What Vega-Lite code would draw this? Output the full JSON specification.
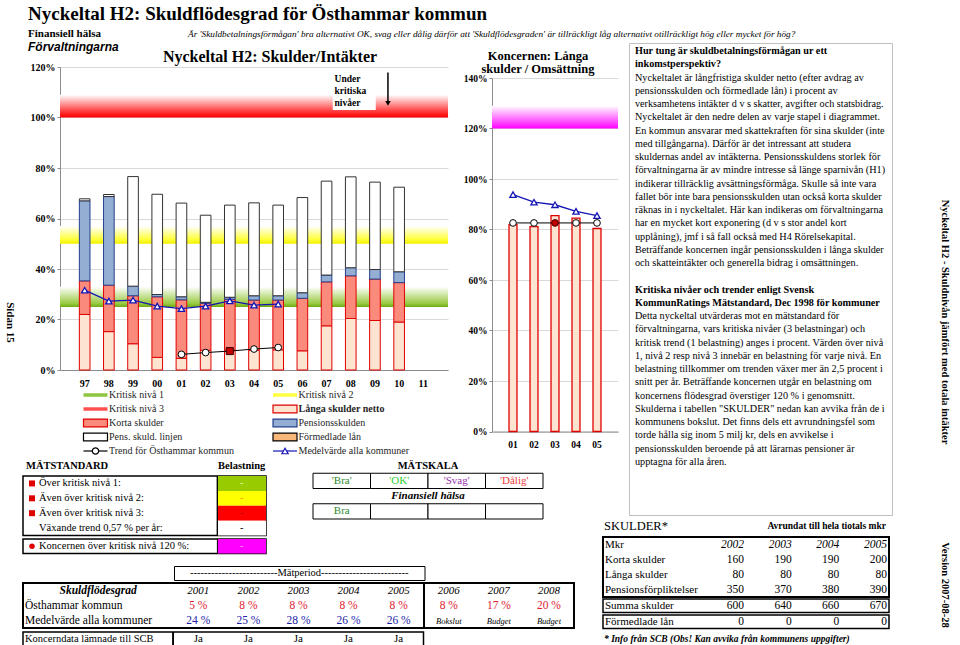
{
"$schema":"https://vega.github.io/schema/vega-lite/v6.json",
"padding":0,
"background":"white",
"spacing":0,
"align":"none",
"resolve":{"scale":{"fill":"independent","stroke":"independent","color":"independent","shape":"independent"}},
"config":{
 "font":"Liberation Serif",
 "view":{"stroke":null},
 "concat":{"spacing":0},
 "text":{"font":"Liberation Serif","color":"black"},
 "title":{"font":"Liberation Serif","color":"black"},
 "axis":{"labelFont":"Liberation Serif","labelFontWeight":"bold","labelFontSize":10,"labelColor":"black","domainColor":"#8c8c8c","tickColor":"#8c8c8c","gridColor":"#d9d9d9"}
},
"datasets":{
 "bars":[
  {"yr":"97","comp":"Långa skulder netto","ord":1,"v":0.220},{"yr":"97","comp":"Korta skulder","ord":2,"v":0.133},{"yr":"97","comp":"Pensionsskulden","ord":3,"v":0.317},{"yr":"97","comp":"Pens. skuld. linjen","ord":4,"v":0.008},
  {"yr":"98","comp":"Långa skulder netto","ord":1,"v":0.152},{"yr":"98","comp":"Korta skulder","ord":2,"v":0.184},{"yr":"98","comp":"Pensionsskulden","ord":3,"v":0.351},{"yr":"98","comp":"Pens. skuld. linjen","ord":4,"v":0.008},
  {"yr":"99","comp":"Långa skulder netto","ord":1,"v":0.104},{"yr":"99","comp":"Korta skulder","ord":2,"v":0.190},{"yr":"99","comp":"Pensionsskulden","ord":3,"v":0.038},{"yr":"99","comp":"Pens. skuld. linjen","ord":4,"v":0.434},
  {"yr":"00","comp":"Långa skulder netto","ord":1,"v":0.050},{"yr":"00","comp":"Korta skulder","ord":2,"v":0.240},{"yr":"00","comp":"Pensionsskulden","ord":3,"v":0.009},{"yr":"00","comp":"Pens. skuld. linjen","ord":4,"v":0.397},
  {"yr":"01","comp":"Långa skulder netto","ord":1,"v":0.046},{"yr":"01","comp":"Korta skulder","ord":2,"v":0.232},{"yr":"01","comp":"Pensionsskulden","ord":3,"v":0.012},{"yr":"01","comp":"Pens. skuld. linjen","ord":4,"v":0.371},
  {"yr":"02","comp":"Långa skulder netto","ord":1,"v":0.078},{"yr":"02","comp":"Korta skulder","ord":2,"v":0.186},{"yr":"02","comp":"Pensionsskulden","ord":3,"v":0.004},{"yr":"02","comp":"Pens. skuld. linjen","ord":4,"v":0.345},
  {"yr":"03","comp":"Långa skulder netto","ord":1,"v":0.078},{"yr":"03","comp":"Korta skulder","ord":2,"v":0.202},{"yr":"03","comp":"Pensionsskulden","ord":3,"v":0.008},{"yr":"03","comp":"Pens. skuld. linjen","ord":4,"v":0.365},
  {"yr":"04","comp":"Långa skulder netto","ord":1,"v":0.078},{"yr":"04","comp":"Korta skulder","ord":2,"v":0.199},{"yr":"04","comp":"Pensionsskulden","ord":3,"v":0.017},{"yr":"04","comp":"Pens. skuld. linjen","ord":4,"v":0.368},
  {"yr":"05","comp":"Långa skulder netto","ord":1,"v":0.080},{"yr":"05","comp":"Korta skulder","ord":2,"v":0.197},{"yr":"05","comp":"Pensionsskulden","ord":3,"v":0.017},{"yr":"05","comp":"Pens. skuld. linjen","ord":4,"v":0.359},
  {"yr":"06","comp":"Långa skulder netto","ord":1,"v":0.076},{"yr":"06","comp":"Korta skulder","ord":2,"v":0.208},{"yr":"06","comp":"Pensionsskulden","ord":3,"v":0.022},{"yr":"06","comp":"Pens. skuld. linjen","ord":4,"v":0.377},
  {"yr":"07","comp":"Långa skulder netto","ord":1,"v":0.175},{"yr":"07","comp":"Korta skulder","ord":2,"v":0.174},{"yr":"07","comp":"Pensionsskulden","ord":3,"v":0.027},{"yr":"07","comp":"Pens. skuld. linjen","ord":4,"v":0.372},
  {"yr":"08","comp":"Långa skulder netto","ord":1,"v":0.204},{"yr":"08","comp":"Korta skulder","ord":2,"v":0.169},{"yr":"08","comp":"Pensionsskulden","ord":3,"v":0.032},{"yr":"08","comp":"Pens. skuld. linjen","ord":4,"v":0.360},
  {"yr":"09","comp":"Långa skulder netto","ord":1,"v":0.196},{"yr":"09","comp":"Korta skulder","ord":2,"v":0.164},{"yr":"09","comp":"Pensionsskulden","ord":3,"v":0.038},{"yr":"09","comp":"Pens. skuld. linjen","ord":4,"v":0.346},
  {"yr":"10","comp":"Långa skulder netto","ord":1,"v":0.190},{"yr":"10","comp":"Korta skulder","ord":2,"v":0.156},{"yr":"10","comp":"Pensionsskulden","ord":3,"v":0.043},{"yr":"10","comp":"Pens. skuld. linjen","ord":4,"v":0.335}
 ],
 "trend":[{"yr":"01","v":0.062,"cur":false},{"yr":"02","v":0.069,"cur":false},{"yr":"03","v":0.075,"cur":true},{"yr":"04","v":0.083,"cur":false},{"yr":"05","v":0.089,"cur":false}],
 "medel":[{"yr":"97","v":0.316},{"yr":"98","v":0.273},{"yr":"99","v":0.277},{"yr":"00","v":0.253},{"yr":"01","v":0.243},{"yr":"02","v":0.253},{"yr":"03","v":0.274},{"yr":"04","v":0.257},{"yr":"05","v":0.261}],
 "crit":[{"lvl":"n1","lo":0.25,"hi":0.33},{"lvl":"n2","lo":0.5,"hi":0.57},{"lvl":"n3","lo":1.0,"hi":1.09}],
 "kbars":[{"yr":"01","v":0.819},{"yr":"02","v":0.811},{"yr":"03","v":0.855},{"yr":"04","v":0.845},{"yr":"05","v":0.804}],
 "ktrend":[{"yr":"01","v":0.826,"cur":false},{"yr":"02","v":0.826,"cur":false},{"yr":"03","v":0.826,"cur":true},{"yr":"04","v":0.826,"cur":false},{"yr":"05","v":0.826,"cur":false}],
 "kmedel":[{"yr":"01","v":0.938},{"yr":"02","v":0.908},{"yr":"03","v":0.898},{"yr":"04","v":0.872},{"yr":"05","v":0.855}],
 "kcrit":[{"lvl":"koncern","lo":1.2,"hi":1.29}],
 "legend":[
  {"key":"n1","label":"Kritisk nivå 1","row":1,"col":"a","kind":"line"},
  {"key":"n2","label":"Kritisk nivå 2","row":1,"col":"b","kind":"line"},
  {"key":"n3","label":"Kritisk nivå 3","row":2,"col":"a","kind":"line"},
  {"key":"lang","label":"Långa skulder netto","row":2,"col":"b","kind":"rect"},
  {"key":"korta","label":"Korta skulder","row":3,"col":"a","kind":"rect"},
  {"key":"pens","label":"Pensionsskulden","row":3,"col":"b","kind":"rect"},
  {"key":"linjen","label":"Pens. skuld. linjen","row":4,"col":"a","kind":"rect"},
  {"key":"form","label":"Förmedlade lån","row":4,"col":"b","kind":"rect"},
  {"key":"trend","label":"Trend för Östhammar kommun","row":5,"col":"a","kind":"marker"},
  {"key":"medel","label":"Medelvärde alla kommuner","row":5,"col":"b","kind":"marker"}
 ],
 "tb":[
  {"i":0,"kind":"head","t":"Hur tung är skuldbetalningsförmågan ur ett"},
  {"i":1,"kind":"head","t":"inkomstperspektiv?"},
  {"i":2,"kind":"body","t":"Nyckeltalet är långfristiga skulder netto (efter avdrag av"},
  {"i":3,"kind":"body","t":"pensionsskulden och förmedlade lån) i procent av"},
  {"i":4,"kind":"body","t":"verksamhetens intäkter d v s skatter, avgifter och statsbidrag."},
  {"i":5,"kind":"body","t":"Nyckeltalet är den nedre delen av varje stapel i diagrammet."},
  {"i":6,"kind":"body","t":"En kommun ansvarar med skattekraften för sina skulder (inte"},
  {"i":7,"kind":"body","t":"med tillgångarna). Därför är det intressant att studera"},
  {"i":8,"kind":"body","t":"skuldernas andel av intäkterna. Pensionsskuldens storlek för"},
  {"i":9,"kind":"body","t":"förvaltningarna är av mindre intresse så länge sparnivån (H1)"},
  {"i":10,"kind":"body","t":"indikerar tillräcklig avsättningsförmåga. Skulle så inte vara"},
  {"i":11,"kind":"body","t":"fallet bör inte bara pensionsskulden utan också korta skulder"},
  {"i":12,"kind":"body","t":"räknas in i nyckeltalet. Här kan indikeras om förvaltningarna"},
  {"i":13,"kind":"body","t":"har en mycket kort exponering (d v s stor andel kort"},
  {"i":14,"kind":"body","t":"upplåning), jmf i så fall också med H4 Rörelsekapital."},
  {"i":15,"kind":"body","t":"Beträffande koncernen ingår pensionsskulden i långa skulder"},
  {"i":16,"kind":"body","t":"och skatteintäkter och generella bidrag i omsättningen."},
  {"i":18,"kind":"head","t":"Kritiska nivåer och trender enligt Svensk"},
  {"i":19,"kind":"head","t":"KommunRatings Mätstandard, Dec 1998 för kommuner"},
  {"i":20,"kind":"body","t":"Detta nyckeltal utvärderas mot en mätstandard för"},
  {"i":21,"kind":"body","t":"förvaltningarna, vars kritiska nivåer (3 belastningar) och"},
  {"i":22,"kind":"body","t":"kritisk trend (1 belastning) anges i procent. Värden över nivå"},
  {"i":23,"kind":"body","t":"1, nivå 2 resp nivå 3 innebär en belastning för varje nivå. En"},
  {"i":24,"kind":"body","t":"belastning tillkommer om trenden växer mer än 2,5 procent i"},
  {"i":25,"kind":"body","t":"snitt per år. Beträffande koncernen utgår en belastning om"},
  {"i":26,"kind":"body","t":"koncernens flödesgrad överstiger 120 % i genomsnitt."},
  {"i":27,"kind":"body","t":"Skulderna i tabellen \"SKULDER\" nedan kan avvika från de i"},
  {"i":28,"kind":"body","t":"kommunens bokslut. Det finns dels ett avrundningsfel som"},
  {"i":29,"kind":"body","t":"torde hålla sig inom 5 milj kr, dels en avvikelse i"},
  {"i":30,"kind":"body","t":"pensionsskulden beroende på att lärarnas pensioner är"},
  {"i":31,"kind":"body","t":"upptagna för alla åren."}
 ],
 "matst":[
  {"r":1,"lab":"Över kritisk nivå 1:","lvl":"Nivå 1","bel":"-","grp":"A"},
  {"r":2,"lab":"Även över kritisk nivå 2:","lvl":"Nivå 2","bel":"-","grp":"A"},
  {"r":3,"lab":"Även över kritisk nivå 3:","lvl":"Nivå 3","bel":"-","grp":"A"},
  {"r":4,"lab":"Växande trend 0,57 % per år:","lvl":"Trend","bel":"-","grp":"A"},
  {"r":5,"lab":"Koncernen över kritisk nivå 120 %:","lvl":"Koncern","bel":"-","grp":"B"}
 ],
 "matsk":[
  {"row":"h1","kind":"head","t":"MÄTSKALA"},
  {"row":"h2","kind":"sub","t":"Finansiell hälsa"},
  {"row":"r1","col":"c1","kind":"cell","cls":"Bra","t":"'Bra'"},
  {"row":"r1","col":"c2","kind":"cell","cls":"OK","t":"'OK'"},
  {"row":"r1","col":"c3","kind":"cell","cls":"Svag","t":"'Svag'"},
  {"row":"r1","col":"c4","kind":"cell","cls":"Dålig","t":"'Dålig'"},
  {"row":"r2","col":"c1","kind":"cell","cls":"Bra","t":"Bra"},
  {"row":"r2","col":"c2","kind":"cell","cls":"","t":""},
  {"row":"r2","col":"c3","kind":"cell","cls":"","t":""},
  {"row":"r2","col":"c4","kind":"cell","cls":"","t":""}
 ],
 "sfg":[
  {"row":"h","col":"l2","kind":"head","t":"Skuldflödesgrad"},
  {"row":"h","col":"2001","kind":"year","t":"2001"},{"row":"h","col":"2002","kind":"year","t":"2002"},{"row":"h","col":"2003","kind":"year","t":"2003"},{"row":"h","col":"2004","kind":"year","t":"2004"},
  {"row":"h","col":"2005","kind":"year","t":"2005"},{"row":"h","col":"2006","kind":"year","t":"2006"},{"row":"h","col":"2007","kind":"year","t":"2007"},{"row":"h","col":"2008","kind":"year","t":"2008"},
  {"row":"o","col":"l1","kind":"label","t":"Östhammar kommun"},
  {"row":"o","col":"2001","kind":"ost","t":"5 %"},{"row":"o","col":"2002","kind":"ost","t":"8 %"},{"row":"o","col":"2003","kind":"ost","t":"8 %"},{"row":"o","col":"2004","kind":"ost","t":"8 %"},
  {"row":"o","col":"2005","kind":"ost","t":"8 %"},{"row":"o","col":"2006","kind":"ost","t":"8 %"},{"row":"o","col":"2007","kind":"ost","t":"17 %"},{"row":"o","col":"2008","kind":"ost","t":"20 %"},
  {"row":"m","col":"l1","kind":"label","t":"Medelvärde alla kommuner"},
  {"row":"m","col":"2001","kind":"medel","t":"24 %"},{"row":"m","col":"2002","kind":"medel","t":"25 %"},{"row":"m","col":"2003","kind":"medel","t":"28 %"},{"row":"m","col":"2004","kind":"medel","t":"26 %"},
  {"row":"m","col":"2005","kind":"medel","t":"26 %"},{"row":"m","col":"2006","kind":"note","t":"Bokslut"},{"row":"m","col":"2007","kind":"note","t":"Budget"},{"row":"m","col":"2008","kind":"note","t":"Budget"}
 ],
 "bot":[
  {"col":"l1","kind":"label","t":"Koncerndata lämnade till SCB"},
  {"col":"2001","kind":"ja","t":"Ja"},{"col":"2002","kind":"ja","t":"Ja"},{"col":"2003","kind":"ja","t":"Ja"},{"col":"2004","kind":"ja","t":"Ja"},{"col":"2005","kind":"ja","t":"Ja"}
 ],
 "skulder":[
  {"r":0,"grp":"f1","col":"l1","kind":"label","t":"Mkr"},
  {"r":0,"grp":"f1","col":"2002","kind":"year","t":"2002"},{"r":0,"grp":"f1","col":"2003","kind":"year","t":"2003"},{"r":0,"grp":"f1","col":"2004","kind":"year","t":"2004"},{"r":0,"grp":"f1","col":"2005","kind":"year","t":"2005"},
  {"r":1,"grp":"f1","col":"l1","kind":"label","t":"Korta skulder"},
  {"r":1,"grp":"f1","col":"2002","kind":"num","v":160},{"r":1,"grp":"f1","col":"2003","kind":"num","v":190},{"r":1,"grp":"f1","col":"2004","kind":"num","v":190},{"r":1,"grp":"f1","col":"2005","kind":"num","v":200},
  {"r":2,"grp":"f1","col":"l1","kind":"label","t":"Långa skulder"},
  {"r":2,"grp":"f1","col":"2002","kind":"num","v":80},{"r":2,"grp":"f1","col":"2003","kind":"num","v":80},{"r":2,"grp":"f1","col":"2004","kind":"num","v":80},{"r":2,"grp":"f1","col":"2005","kind":"num","v":80},
  {"r":3,"grp":"f1","col":"l1","kind":"label","t":"Pensionsförpliktelser"},
  {"r":3,"grp":"f1","col":"2002","kind":"num","v":350},{"r":3,"grp":"f1","col":"2003","kind":"num","v":370},{"r":3,"grp":"f1","col":"2004","kind":"num","v":380},{"r":3,"grp":"f1","col":"2005","kind":"num","v":390},
  {"r":4,"grp":"f2","col":"l1","kind":"label","t":"Summa skulder"},
  {"r":4,"grp":"f2","col":"2002","kind":"num","v":600},{"r":4,"grp":"f2","col":"2003","kind":"num","v":640},{"r":4,"grp":"f2","col":"2004","kind":"num","v":660},{"r":4,"grp":"f2","col":"2005","kind":"num","v":670},
  {"r":5,"grp":"f3","col":"l1","kind":"label","t":"Förmedlade lån"},
  {"r":5,"grp":"f3","col":"2002","kind":"num","v":0},{"r":5,"grp":"f3","col":"2003","kind":"num","v":0},{"r":5,"grp":"f3","col":"2004","kind":"num","v":0},{"r":5,"grp":"f3","col":"2005","kind":"num","v":0}
 ]
},
"hconcat":[
 {"width":20,"height":645,"data":{"values":[{"t":"Sidan 15"}]},"mark":{"type":"text","angle":90,"fontSize":11,"fontWeight":"bold"},"encoding":{"text":{"field":"t","type":"nominal"}}},
 {"spacing":0,"align":"none","resolve":{"scale":{"fill":"independent","stroke":"independent","color":"independent","shape":"independent"}},"vconcat":[
  {"width":910,"height":28,"data":{"values":[{"t":"Nyckeltal H2: Skuldflödesgrad för Östhammar kommun"}]},"mark":{"type":"text","align":"left","dx":8,"fontSize":19,"fontWeight":"bold"},"encoding":{"x":{"datum":0,"type":"quantitative","scale":{"domain":[0,1]},"axis":null},"text":{"field":"t","type":"nominal"}}},
  {"spacing":0,"align":"none","hconcat":[
   {"width":168,"height":12,"data":{"values":[{"t":"Finansiell hälsa"}]},"mark":{"type":"text","align":"left","dx":8,"fontSize":11,"fontWeight":"bold"},"encoding":{"x":{"datum":0,"type":"quantitative","scale":{"domain":[0,1]},"axis":null},"text":{"field":"t","type":"nominal"}}},
   {"width":742,"height":12,"data":{"values":[{"t":"Är 'Skuldbetalningsförmågan' bra alternativt OK, svag eller dålig därför att 'Skuldflödesgraden' är tillräckligt låg alternativt otillräckligt hög eller mycket för hög?"}]},"mark":{"type":"text","align":"left","fontSize":9.25,"fontStyle":"italic"},"encoding":{"x":{"datum":0,"type":"quantitative","scale":{"domain":[0,1]},"axis":null},"text":{"field":"t","type":"nominal"}}}
  ]},
  {"spacing":-16,"align":"none","resolve":{"scale":{"fill":"independent","stroke":"independent","color":"independent","shape":"independent"}},"hconcat":[
   {"spacing":0,"align":"none","resolve":{"scale":{"fill":"independent","stroke":"independent","color":"independent","shape":"independent"}},"vconcat":[
    {"spacing":0,"align":"none","resolve":{"scale":{"fill":"independent","stroke":"independent","color":"independent","shape":"independent"}},"hconcat":[
     {"width":1,"height":1,"data":{"values":[]},"mark":{"type":"point"},"encoding":{}},
     {"spacing":0,"align":"none","resolve":{"scale":{"fill":"independent","stroke":"independent","color":"independent","shape":"independent"}},"vconcat":[
      {"width":1,"height":1,"data":{"values":[]},"mark":{"type":"point"},"encoding":{}},
      {"width":388,"height":303,
       "layer":[
        {"data":{"name":"crit"},"transform":[{"filter":"datum.lvl=='n1'"}],"mark":{"type":"rect","fill":{"gradient":"linear","x1":0,"y1":1,"x2":0,"y2":0,"stops":[{"offset":0,"color":"#6FAE14"},{"offset":0.18,"color":"#9BCB45"},{"offset":1,"color":"#ffffff"}]}},
         "encoding":{"y":{"field":"lo","type":"quantitative","scale":{"domain":[0,1.2],"nice":false},"axis":{"values":[0,0.1,0.2,0.3,0.4,0.5,0.6,0.7,0.8,0.9,1,1.1,1.2],"format":".0%","grid":true,"tickSize":3,"labelPadding":2,"minExtent":39,"maxExtent":39},"title":null},"y2":{"field":"hi"}}},
        {"data":{"name":"crit"},"transform":[{"filter":"datum.lvl=='n2'"}],"mark":{"type":"rect","fill":{"gradient":"linear","x1":0,"y1":1,"x2":0,"y2":0,"stops":[{"offset":0,"color":"#F0F000"},{"offset":0.25,"color":"#FFFF3A"},{"offset":1,"color":"#ffffff"}]}},
         "encoding":{"y":{"field":"lo","type":"quantitative","scale":{"domain":[0,1.2],"nice":false},"title":null},"y2":{"field":"hi"}}},
        {"data":{"name":"crit"},"transform":[{"filter":"datum.lvl=='n3'"}],"mark":{"type":"rect","fill":{"gradient":"linear","x1":0,"y1":1,"x2":0,"y2":0,"stops":[{"offset":0,"color":"#FF0000"},{"offset":0.2,"color":"#FF2A2A"},{"offset":1,"color":"#ffffff"}]}},
         "encoding":{"y":{"field":"lo","type":"quantitative","scale":{"domain":[0,1.2],"nice":false},"title":null},"y2":{"field":"hi"}}},
        {"data":{"name":"bars"},"mark":{"type":"bar","strokeWidth":1},
         "encoding":{
          "x":{"field":"yr","type":"nominal","scale":{"type":"band","domain":["97","98","99","00","01","02","03","04","05","06","07","08","09","10","11"],"paddingInner":0.56,"paddingOuter":0.8},"axis":{"labelAngle":0,"ticks":false,"labelPadding":8},"title":null},
          "y":{"field":"v","type":"quantitative","stack":"zero","scale":{"domain":[0,1.2],"nice":false},"title":null},
          "fill":{"field":"comp","type":"nominal","scale":{"domain":["Långa skulder netto","Korta skulder","Pensionsskulden","Pens. skuld. linjen"],"range":["#FDE4D0","#FA8A7C","#94AED3","#FFFFFF"]},"legend":null},
          "stroke":{"field":"comp","type":"nominal","scale":{"domain":["Långa skulder netto","Korta skulder","Pensionsskulden","Pens. skuld. linjen"],"range":["#E00000","#E00000","#24408E","#333333"]},"legend":null},
          "order":{"field":"ord","type":"quantitative"}}},
        {"data":{"name":"medel"},"mark":{"type":"line","color":"#1515B5","strokeWidth":1.3},
         "encoding":{"x":{"field":"yr","type":"nominal","scale":{"type":"band","domain":["97","98","99","00","01","02","03","04","05","06","07","08","09","10","11"],"paddingInner":0.56,"paddingOuter":0.8},"title":null},"y":{"field":"v","type":"quantitative","scale":{"domain":[0,1.2],"nice":false},"title":null}}},
        {"data":{"name":"medel"},"mark":{"type":"point","shape":"triangle-up","filled":true,"fill":"white","stroke":"#1515B5","strokeWidth":1.3,"size":40,"opacity":1},
         "encoding":{"x":{"field":"yr","type":"nominal","scale":{"type":"band","domain":["97","98","99","00","01","02","03","04","05","06","07","08","09","10","11"],"paddingInner":0.56,"paddingOuter":0.8},"title":null},"y":{"field":"v","type":"quantitative","scale":{"domain":[0,1.2],"nice":false},"title":null}}},
        {"data":{"name":"trend"},"mark":{"type":"line","color":"black","strokeWidth":1},
         "encoding":{"x":{"field":"yr","type":"nominal","scale":{"type":"band","domain":["97","98","99","00","01","02","03","04","05","06","07","08","09","10","11"],"paddingInner":0.56,"paddingOuter":0.8},"title":null},"y":{"field":"v","type":"quantitative","scale":{"domain":[0,1.2],"nice":false},"title":null}}},
        {"data":{"name":"trend"},"transform":[{"filter":"!datum.cur"}],"mark":{"type":"point","shape":"circle","filled":true,"fill":"white","stroke":"black","strokeWidth":1,"size":45,"opacity":1},
         "encoding":{"x":{"field":"yr","type":"nominal","scale":{"type":"band","domain":["97","98","99","00","01","02","03","04","05","06","07","08","09","10","11"],"paddingInner":0.56,"paddingOuter":0.8},"title":null},"y":{"field":"v","type":"quantitative","scale":{"domain":[0,1.2],"nice":false},"title":null}}},
        {"data":{"name":"trend"},"transform":[{"filter":"datum.cur"}],"mark":{"type":"point","shape":"square","filled":true,"fill":"#C00000","stroke":"#400000","strokeWidth":1,"size":50,"opacity":1},
         "encoding":{"x":{"field":"yr","type":"nominal","scale":{"type":"band","domain":["97","98","99","00","01","02","03","04","05","06","07","08","09","10","11"],"paddingInner":0.56,"paddingOuter":0.8},"title":null},"y":{"field":"v","type":"quantitative","scale":{"domain":[0,1.2],"nice":false},"title":null}}},
        {"data":{"values":[{}]},"mark":{"type":"rect","fill":"white","width":43,"xOffset":3.5},
         "encoding":{"x":{"datum":"08","type":"nominal","scale":{"type":"band","domain":["97","98","99","00","01","02","03","04","05","06","07","08","09","10","11"],"paddingInner":0.56,"paddingOuter":0.8}},"y":{"datum":1.175,"type":"quantitative","scale":{"domain":[0,1.2],"nice":false}},"y2":{"datum":1.03}}},
        {"data":{"values":[{"t":"Under\nkritiska\nnivåer"}]},"mark":{"type":"text","align":"left","baseline":"top","dx":8,"fontSize":9.5,"fontWeight":"bold","lineHeight":12,"lineBreak":"\n"},
         "encoding":{"x":{"datum":"07","type":"nominal","scale":{"type":"band","domain":["97","98","99","00","01","02","03","04","05","06","07","08","09","10","11"],"paddingInner":0.56,"paddingOuter":0.8}},"y":{"datum":1.173,"type":"quantitative","scale":{"domain":[0,1.2],"nice":false}},"text":{"field":"t","type":"nominal"}}},
        {"data":{"values":[{}]},"mark":{"type":"rule","color":"black","strokeWidth":1.5,"xOffset":13},
         "encoding":{"x":{"datum":"09","type":"nominal","scale":{"type":"band","domain":["97","98","99","00","01","02","03","04","05","06","07","08","09","10","11"],"paddingInner":0.56,"paddingOuter":0.8}},"y":{"datum":1.178,"type":"quantitative","scale":{"domain":[0,1.2],"nice":false}},"y2":{"datum":1.06}}},
        {"data":{"values":[{}]},"mark":{"type":"point","shape":"triangle-down","filled":true,"color":"black","size":30,"opacity":1,"xOffset":13},
         "encoding":{"x":{"datum":"09","type":"nominal","scale":{"type":"band","domain":["97","98","99","00","01","02","03","04","05","06","07","08","09","10","11"],"paddingInner":0.56,"paddingOuter":0.8}},"y":{"datum":1.056,"type":"quantitative","scale":{"domain":[0,1.2],"nice":false}}}},
        {"data":{"values":[{"t":"Förvaltningarna"}]},"mark":{"type":"text","align":"left","dx":-56.7,"font":"Liberation Sans","fontSize":12,"fontStyle":"italic","fontWeight":"bold"},
         "encoding":{"x":{"datum":"97","type":"nominal","scale":{"type":"band","domain":["97","98","99","00","01","02","03","04","05","06","07","08","09","10","11"],"paddingInner":0.56,"paddingOuter":0.8}},"y":{"datum":1.279,"type":"quantitative","scale":{"domain":[0,1.2],"nice":false}},"text":{"field":"t","type":"nominal"}}},
        {"data":{"values":[{"t":"Nyckeltal H2: Skulder/Intäkter"}]},"mark":{"type":"text","dx":16,"fontSize":16,"fontWeight":"bold"},
         "encoding":{"x":{"datum":"04","type":"nominal","scale":{"type":"band","domain":["97","98","99","00","01","02","03","04","05","06","07","08","09","10","11"],"paddingInner":0.56,"paddingOuter":0.8}},"y":{"datum":1.24,"type":"quantitative","scale":{"domain":[0,1.2],"nice":false}},"text":{"field":"t","type":"nominal"}}}
       ]},
      {"width":260.5,"height":70,"data":{"name":"legend"},
       "layer":[
        {"transform":[{"filter":"datum.kind=='line'"}],"mark":{"type":"point","shape":"M-1,0H1","size":576,"strokeWidth":3.5,"opacity":1,"filled":false},
         "encoding":{"x":{"field":"col","type":"nominal","scale":{"type":"point","domain":["a","b"],"padding":0.1873},"axis":null},"y":{"field":"row","type":"ordinal","scale":{"type":"point","padding":0.5},"axis":null},
          "stroke":{"field":"key","type":"nominal","scale":{"domain":["n1","n2","n3","lang","korta","pens","linjen","form","trend","medel"],"range":["#8DC63F","#FFFF40","#FF5050","#E00000","#E00000","#24408E","#000000","#000000","#000000","#1515B5"]},"legend":null}}},
        {"transform":[{"filter":"datum.kind=='marker'"}],"mark":{"type":"point","shape":"M-1,0H1","size":576,"strokeWidth":1.2,"opacity":1,"filled":false},
         "encoding":{"x":{"field":"col","type":"nominal","scale":{"type":"point","domain":["a","b"],"padding":0.1873},"axis":null},"y":{"field":"row","type":"ordinal","scale":{"type":"point","padding":0.5},"axis":null},
          "stroke":{"field":"key","type":"nominal","scale":{"domain":["n1","n2","n3","lang","korta","pens","linjen","form","trend","medel"],"range":["#8DC63F","#FFFF40","#FF5050","#E00000","#E00000","#24408E","#000000","#000000","#000000","#1515B5"]},"legend":null}}},
        {"transform":[{"filter":"datum.kind=='rect'"}],"mark":{"type":"point","shape":"M-1,-0.33H1V0.33H-1Z","size":576,"strokeWidth":1.2,"opacity":1,"filled":true},
         "encoding":{"x":{"field":"col","type":"nominal","scale":{"type":"point","domain":["a","b"],"padding":0.1873},"axis":null},"y":{"field":"row","type":"ordinal","scale":{"type":"point","padding":0.5},"axis":null},
          "stroke":{"field":"key","type":"nominal","scale":{"domain":["n1","n2","n3","lang","korta","pens","linjen","form","trend","medel"],"range":["#8DC63F","#FFFF40","#FF5050","#E00000","#E00000","#24408E","#000000","#000000","#000000","#1515B5"]},"legend":null},
          "fill":{"field":"key","type":"nominal","scale":{"domain":["lang","korta","pens","linjen","form"],"range":["#FDE4D0","#FA8A7C","#94AED3","#FFFFFF","#F9B77A"]},"legend":null}}},
        {"transform":[{"filter":"datum.kind=='marker'"}],"mark":{"type":"point","size":40,"strokeWidth":1.2,"opacity":1,"filled":true,"fill":"white"},
         "encoding":{"x":{"field":"col","type":"nominal","scale":{"type":"point","domain":["a","b"],"padding":0.1873},"axis":null},"y":{"field":"row","type":"ordinal","scale":{"type":"point","padding":0.5},"axis":null},
          "stroke":{"field":"key","type":"nominal","scale":{"domain":["n1","n2","n3","lang","korta","pens","linjen","form","trend","medel"],"range":["#8DC63F","#FFFF40","#FF5050","#E00000","#E00000","#24408E","#000000","#000000","#000000","#1515B5"]},"legend":null},
          "shape":{"field":"key","type":"nominal","scale":{"domain":["trend","medel"],"range":["circle","triangle-up"]},"legend":null}}},
        {"transform":[{"filter":"datum.key!='lang'"}],"mark":{"type":"text","align":"left","dx":13.5,"fontSize":10,"color":"#262626"},
         "encoding":{"x":{"field":"col","type":"nominal","scale":{"type":"point","domain":["a","b"],"padding":0.1873},"axis":null},"y":{"field":"row","type":"ordinal","scale":{"type":"point","padding":0.5},"axis":null},"text":{"field":"label","type":"nominal"}}},
        {"transform":[{"filter":"datum.key=='lang'"}],"mark":{"type":"text","align":"left","dx":13.5,"fontSize":10,"fontWeight":"bold","color":"#262626"},
         "encoding":{"x":{"field":"col","type":"nominal","scale":{"type":"point","domain":["a","b"],"padding":0.1873},"axis":null},"y":{"field":"row","type":"ordinal","scale":{"type":"point","padding":0.5},"axis":null},"text":{"field":"label","type":"nominal"}}}
       ]}
     ]},
     {"spacing":0,"align":"none","resolve":{"scale":{"fill":"independent","stroke":"independent","color":"independent","shape":"independent"}},"vconcat":[
      {"width":1,"height":9,"data":{"values":[]},"mark":{"type":"point"},"encoding":{}},
      {"width":126,"height":353.5,
       "title":{"text":["Koncernen: Långa","skulder / Omsättning"],"fontSize":12.5,"fontWeight":"bold","lineHeight":13,"frame":"group","anchor":"middle","dx":-17,"offset":-2},
       "layer":[
        {"data":{"name":"kcrit"},"mark":{"type":"rect","fill":{"gradient":"linear","x1":0,"y1":1,"x2":0,"y2":0,"stops":[{"offset":0,"color":"#FF00FF"},{"offset":0.25,"color":"#FF40FF"},{"offset":1,"color":"#ffffff"}]}},
         "encoding":{"y":{"field":"lo","type":"quantitative","scale":{"domain":[0,1.4],"nice":false},"axis":{"values":[0,0.1,0.2,0.3,0.4,0.5,0.6,0.7,0.8,0.9,1,1.1,1.2,1.3,1.4],"format":".0%","grid":true,"tickSize":3,"labelPadding":2,"labelFontSize":9.5,"minExtent":44,"maxExtent":44},"title":null},"y2":{"field":"hi"}}},
        {"data":{"name":"kbars"},"mark":{"type":"bar","fill":"#FDE4D0","stroke":"#E00000","strokeWidth":1.3},
         "encoding":{"x":{"field":"yr","type":"nominal","scale":{"type":"band","domain":["01","02","03","04","05"],"paddingInner":0.62,"paddingOuter":0.81},"axis":{"labelAngle":0,"ticks":false,"labelPadding":8,"labelFontSize":9.5},"title":null},"y":{"field":"v","type":"quantitative","scale":{"domain":[0,1.4],"nice":false},"title":null}}},
        {"data":{"name":"kmedel"},"mark":{"type":"line","color":"#1515B5","strokeWidth":1.3},
         "encoding":{"x":{"field":"yr","type":"nominal","scale":{"type":"band","domain":["01","02","03","04","05"],"paddingInner":0.62,"paddingOuter":0.81},"title":null},"y":{"field":"v","type":"quantitative","scale":{"domain":[0,1.4],"nice":false},"title":null}}},
        {"data":{"name":"kmedel"},"mark":{"type":"point","shape":"triangle-up","filled":true,"fill":"white","stroke":"#1515B5","strokeWidth":1.3,"size":40,"opacity":1},
         "encoding":{"x":{"field":"yr","type":"nominal","scale":{"type":"band","domain":["01","02","03","04","05"],"paddingInner":0.62,"paddingOuter":0.81},"title":null},"y":{"field":"v","type":"quantitative","scale":{"domain":[0,1.4],"nice":false},"title":null}}},
        {"data":{"name":"ktrend"},"mark":{"type":"line","color":"black","strokeWidth":1},
         "encoding":{"x":{"field":"yr","type":"nominal","scale":{"type":"band","domain":["01","02","03","04","05"],"paddingInner":0.62,"paddingOuter":0.81},"title":null},"y":{"field":"v","type":"quantitative","scale":{"domain":[0,1.4],"nice":false},"title":null}}},
        {"data":{"name":"ktrend"},"transform":[{"filter":"!datum.cur"}],"mark":{"type":"point","shape":"circle","filled":true,"fill":"white","stroke":"black","strokeWidth":1,"size":45,"opacity":1},
         "encoding":{"x":{"field":"yr","type":"nominal","scale":{"type":"band","domain":["01","02","03","04","05"],"paddingInner":0.62,"paddingOuter":0.81},"title":null},"y":{"field":"v","type":"quantitative","scale":{"domain":[0,1.4],"nice":false},"title":null}}},
        {"data":{"name":"ktrend"},"transform":[{"filter":"datum.cur"}],"mark":{"type":"point","shape":"circle","filled":true,"fill":"#C00000","stroke":"#400000","strokeWidth":1,"size":45,"opacity":1},
         "encoding":{"x":{"field":"yr","type":"nominal","scale":{"type":"band","domain":["01","02","03","04","05"],"paddingInner":0.62,"paddingOuter":0.81},"title":null},"y":{"field":"v","type":"quantitative","scale":{"domain":[0,1.4],"nice":false},"title":null}}}
       ]}
     ]}
    ]},
    {"spacing":0,"align":"none","resolve":{"scale":{"fill":"independent","stroke":"independent","color":"independent","shape":"independent"}},"hconcat":[
     {"width":2,"height":1,"data":{"values":[]},"mark":{"type":"point"},"encoding":{}},
     {"spacing":0,"align":"none","resolve":{"scale":{"fill":"independent","stroke":"independent","color":"independent","shape":"independent"}},"vconcat":[
      {"width":243,"height":16,"data":{"values":[{"col":"l1","t":"MÄTSTANDARD"},{"col":"bel","t":"Belastning"}]},
       "layer":[
        {"transform":[{"filter":"datum.col=='l1'"}],"mark":{"type":"text","align":"left","dx":3,"fontSize":10.5,"fontWeight":"bold"},"encoding":{"x":{"field":"col","type":"nominal","scale":{"type":"band","domain":["l1","l2","l3","l4","bel"],"paddingInner":0,"paddingOuter":0},"bandPosition":0,"axis":null},"text":{"field":"t","type":"nominal"}}},
        {"transform":[{"filter":"datum.col=='bel'"}],"mark":{"type":"text","fontSize":10.5,"fontWeight":"bold"},"encoding":{"x":{"field":"col","type":"nominal","scale":{"type":"band","domain":["l1","l2","l3","l4","bel"],"paddingInner":0,"paddingOuter":0},"axis":null},"text":{"field":"t","type":"nominal"}}}
       ]},
      {"width":243,"height":59.5,"view":{"stroke":"black","strokeWidth":1.5},"data":{"name":"matst"},"transform":[{"filter":"datum.grp=='A'"}],
       "layer":[
        {"mark":{"type":"rect"},"encoding":{"x":{"datum":"bel","type":"nominal","scale":{"type":"band","domain":["l1","l2","l3","l4","bel"],"paddingInner":0,"paddingOuter":0},"axis":null},"y":{"field":"r","type":"ordinal","scale":{"type":"band","paddingInner":0,"paddingOuter":0},"axis":null},
          "fill":{"field":"lvl","type":"nominal","scale":{"domain":["Nivå 1","Nivå 2","Nivå 3","Trend","Koncern"],"range":["#99CC00","#FFFF00","#FF0000","#FFFFFF","#FF00FF"]},"legend":null}}},
        {"mark":{"type":"rule","color":"black","strokeWidth":1},"encoding":{"x":{"datum":"bel","type":"nominal","scale":{"type":"band","domain":["l1","l2","l3","l4","bel"],"paddingInner":0,"paddingOuter":0},"bandPosition":0,"axis":null}}},
        {"transform":[{"filter":"datum.lvl!='Trend'"}],"mark":{"type":"point","shape":"square","filled":true,"color":"#E00000","size":36,"opacity":1,"xOffset":9},
         "encoding":{"x":{"datum":"l1","type":"nominal","scale":{"type":"band","domain":["l1","l2","l3","l4","bel"],"paddingInner":0,"paddingOuter":0},"bandPosition":0,"axis":null},"y":{"field":"r","type":"ordinal","scale":{"type":"band","paddingInner":0,"paddingOuter":0},"axis":null}}},
        {"mark":{"type":"text","align":"left","dx":16,"fontSize":10.5},
         "encoding":{"x":{"datum":"l1","type":"nominal","scale":{"type":"band","domain":["l1","l2","l3","l4","bel"],"paddingInner":0,"paddingOuter":0},"bandPosition":0,"axis":null},"y":{"field":"r","type":"ordinal","scale":{"type":"band","paddingInner":0,"paddingOuter":0},"axis":null},"text":{"field":"lab","type":"nominal"}}},
        {"mark":{"type":"text","fontSize":10.5},
         "encoding":{"x":{"datum":"bel","type":"nominal","scale":{"type":"band","domain":["l1","l2","l3","l4","bel"],"paddingInner":0,"paddingOuter":0},"axis":null},"y":{"field":"r","type":"ordinal","scale":{"type":"band","paddingInner":0,"paddingOuter":0},"axis":null},"text":{"field":"bel","type":"nominal"},
          "color":{"field":"lvl","type":"nominal","scale":{"domain":["Nivå 1","Nivå 2","Nivå 3","Trend","Koncern"],"range":["#E6F5B0","#FF9900","#B00000","#000000","#FFA0FF"]},"legend":null}}}
       ]},
      {"width":243,"height":14.5,"view":{"stroke":"black","strokeWidth":1.5},"data":{"name":"matst"},"transform":[{"filter":"datum.grp=='B'"}],
       "layer":[
        {"mark":{"type":"rect"},"encoding":{"x":{"datum":"bel","type":"nominal","scale":{"type":"band","domain":["l1","l2","l3","l4","bel"],"paddingInner":0,"paddingOuter":0},"axis":null},
          "fill":{"field":"lvl","type":"nominal","scale":{"domain":["Nivå 1","Nivå 2","Nivå 3","Trend","Koncern"],"range":["#99CC00","#FFFF00","#FF0000","#FFFFFF","#FF00FF"]},"legend":null}}},
        {"mark":{"type":"rule","color":"black","strokeWidth":1},"encoding":{"x":{"datum":"bel","type":"nominal","scale":{"type":"band","domain":["l1","l2","l3","l4","bel"],"paddingInner":0,"paddingOuter":0},"bandPosition":0,"axis":null}}},
        {"mark":{"type":"point","shape":"circle","filled":true,"color":"#E00000","size":30,"opacity":1,"xOffset":9},
         "encoding":{"x":{"datum":"l1","type":"nominal","scale":{"type":"band","domain":["l1","l2","l3","l4","bel"],"paddingInner":0,"paddingOuter":0},"bandPosition":0,"axis":null}}},
        {"mark":{"type":"text","align":"left","dx":16,"fontSize":10.5},
         "encoding":{"x":{"datum":"l1","type":"nominal","scale":{"type":"band","domain":["l1","l2","l3","l4","bel"],"paddingInner":0,"paddingOuter":0},"bandPosition":0,"axis":null},"text":{"field":"lab","type":"nominal"}}},
        {"mark":{"type":"text","fontSize":10.5,"color":"#FFA0FF"},
         "encoding":{"x":{"datum":"bel","type":"nominal","scale":{"type":"band","domain":["l1","l2","l3","l4","bel"],"paddingInner":0,"paddingOuter":0},"axis":null},"text":{"field":"bel","type":"nominal"}}}
       ]}
     ]},
     {"width":45,"height":1,"data":{"values":[]},"mark":{"type":"point"},"encoding":{}},
     {"width":230,"height":61,"data":{"name":"matsk"},
      "layer":[
       {"transform":[{"filter":"datum.kind=='cell'"}],"mark":{"type":"rect","fill":"white","stroke":"black","strokeWidth":1},
        "encoding":{"x":{"field":"col","type":"nominal","scale":{"type":"band","domain":["c1","c2","c3","c4"],"paddingInner":0,"paddingOuter":0},"axis":null},"y":{"field":"row","type":"nominal","scale":{"type":"band","domain":["h1","r1","h2","r2"],"paddingInner":0,"paddingOuter":0},"axis":null}}},
       {"transform":[{"filter":"datum.kind=='cell' && datum.t!=''"}],"mark":{"type":"text","fontSize":11},
        "encoding":{"x":{"field":"col","type":"nominal","scale":{"type":"band","domain":["c1","c2","c3","c4"],"paddingInner":0,"paddingOuter":0},"axis":null},"y":{"field":"row","type":"nominal","scale":{"type":"band","domain":["h1","r1","h2","r2"],"paddingInner":0,"paddingOuter":0},"axis":null},"text":{"field":"t","type":"nominal"},
         "color":{"field":"cls","type":"nominal","scale":{"domain":["Bra","OK","Svag","Dålig"],"range":["#2E8B2E","#33CC33","#9933AA","#F03A3A"]},"legend":null}}},
       {"transform":[{"filter":"datum.kind=='head'"}],"mark":{"type":"text","fontSize":10.5,"fontWeight":"bold"},
        "encoding":{"y":{"field":"row","type":"nominal","scale":{"type":"band","domain":["h1","r1","h2","r2"],"paddingInner":0,"paddingOuter":0},"axis":null},"text":{"field":"t","type":"nominal"}}},
       {"transform":[{"filter":"datum.kind=='sub'"}],"mark":{"type":"text","fontSize":11,"fontWeight":"bold","fontStyle":"italic"},
        "encoding":{"y":{"field":"row","type":"nominal","scale":{"type":"band","domain":["h1","r1","h2","r2"],"paddingInner":0,"paddingOuter":0},"axis":null},"text":{"field":"t","type":"nominal"}}}
      ]}
    ]},
    {"spacing":0,"align":"none","resolve":{"scale":{"fill":"independent","stroke":"independent","color":"independent","shape":"independent"}},"hconcat":[
     {"width":2,"height":1,"data":{"values":[]},"mark":{"type":"point"},"encoding":{}},
     {"spacing":0,"align":"none","resolve":{"scale":{"fill":"independent","stroke":"independent","color":"independent","shape":"independent"}},"vconcat":[
      {"width":1,"height":10,"data":{"values":[]},"mark":{"type":"point"},"encoding":{}},
      {"spacing":0,"align":"none","hconcat":[
       {"width":150,"height":14,"data":{"values":[]},"mark":{"type":"point"},"encoding":{}},
       {"width":250.5,"height":14,"view":{"stroke":"black","strokeWidth":1},"data":{"values":[{"t":"-------------------------Mätperiod-------------------------"}]},"mark":{"type":"text","fontSize":10.5},"encoding":{"text":{"field":"t","type":"nominal"}}}
      ]},
      {"width":551,"height":45,"view":{"stroke":"black","strokeWidth":2},"data":{"name":"sfg"},
       "layer":[
        {"mark":{"type":"rule","color":"black","strokeWidth":1},"encoding":{"x":{"datum":"2006","type":"nominal","scale":{"type":"band","domain":["l1","l2","l3","2001","2002","2003","2004","2005","2006","2007","2008"],"paddingInner":0,"paddingOuter":0},"bandPosition":0,"axis":null}}},
        {"transform":[{"filter":"datum.kind=='head'"}],"mark":{"type":"text","fontSize":11.5,"fontWeight":"bold","fontStyle":"italic"},
         "encoding":{"x":{"field":"col","type":"nominal","scale":{"type":"band","domain":["l1","l2","l3","2001","2002","2003","2004","2005","2006","2007","2008"],"paddingInner":0,"paddingOuter":0},"axis":null},"y":{"field":"row","type":"nominal","scale":{"type":"band","domain":["h","o","m"],"paddingInner":0,"paddingOuter":0},"axis":null},"text":{"field":"t","type":"nominal"}}},
        {"transform":[{"filter":"datum.kind=='year'"}],"mark":{"type":"text","fontSize":11,"fontStyle":"italic"},
         "encoding":{"x":{"field":"col","type":"nominal","scale":{"type":"band","domain":["l1","l2","l3","2001","2002","2003","2004","2005","2006","2007","2008"],"paddingInner":0,"paddingOuter":0},"axis":null},"y":{"field":"row","type":"nominal","scale":{"type":"band","domain":["h","o","m"],"paddingInner":0,"paddingOuter":0},"axis":null},"text":{"field":"t","type":"nominal"}}},
        {"transform":[{"filter":"datum.kind=='label'"}],"mark":{"type":"text","align":"left","dx":2,"fontSize":11.5},
         "encoding":{"x":{"field":"col","type":"nominal","scale":{"type":"band","domain":["l1","l2","l3","2001","2002","2003","2004","2005","2006","2007","2008"],"paddingInner":0,"paddingOuter":0},"bandPosition":0,"axis":null},"y":{"field":"row","type":"nominal","scale":{"type":"band","domain":["h","o","m"],"paddingInner":0,"paddingOuter":0},"axis":null},"text":{"field":"t","type":"nominal"}}},
        {"transform":[{"filter":"datum.kind=='ost'"}],"mark":{"type":"text","fontSize":11.5,"color":"#E0202F"},
         "encoding":{"x":{"field":"col","type":"nominal","scale":{"type":"band","domain":["l1","l2","l3","2001","2002","2003","2004","2005","2006","2007","2008"],"paddingInner":0,"paddingOuter":0},"axis":null},"y":{"field":"row","type":"nominal","scale":{"type":"band","domain":["h","o","m"],"paddingInner":0,"paddingOuter":0},"axis":null},"text":{"field":"t","type":"nominal"}}},
        {"transform":[{"filter":"datum.kind=='medel'"}],"mark":{"type":"text","fontSize":11.5,"color":"#2020A8"},
         "encoding":{"x":{"field":"col","type":"nominal","scale":{"type":"band","domain":["l1","l2","l3","2001","2002","2003","2004","2005","2006","2007","2008"],"paddingInner":0,"paddingOuter":0},"axis":null},"y":{"field":"row","type":"nominal","scale":{"type":"band","domain":["h","o","m"],"paddingInner":0,"paddingOuter":0},"axis":null},"text":{"field":"t","type":"nominal"}}},
        {"transform":[{"filter":"datum.kind=='note'"}],"mark":{"type":"text","fontSize":8.5,"fontStyle":"italic"},
         "encoding":{"x":{"field":"col","type":"nominal","scale":{"type":"band","domain":["l1","l2","l3","2001","2002","2003","2004","2005","2006","2007","2008"],"paddingInner":0,"paddingOuter":0},"axis":null},"y":{"field":"row","type":"nominal","scale":{"type":"band","domain":["h","o","m"],"paddingInner":0,"paddingOuter":0},"axis":null},"text":{"field":"t","type":"nominal"}}}
       ]},
      {"width":400.5,"height":14.5,"view":{"stroke":"black","strokeWidth":1.5},"data":{"name":"bot"},
       "layer":[
        {"mark":{"type":"rule","color":"black","strokeWidth":1},"encoding":{"x":{"datum":"2001","type":"nominal","scale":{"type":"band","domain":["l1","l2","l3","2001","2002","2003","2004","2005"],"paddingInner":0,"paddingOuter":0},"bandPosition":0,"axis":null}}},
        {"transform":[{"filter":"datum.kind=='label'"}],"mark":{"type":"text","align":"left","dx":2,"fontSize":10.5},
         "encoding":{"x":{"field":"col","type":"nominal","scale":{"type":"band","domain":["l1","l2","l3","2001","2002","2003","2004","2005"],"paddingInner":0,"paddingOuter":0},"bandPosition":0,"axis":null},"text":{"field":"t","type":"nominal"}}},
        {"transform":[{"filter":"datum.kind=='ja'"}],"mark":{"type":"text","fontSize":11},
         "encoding":{"x":{"field":"col","type":"nominal","scale":{"type":"band","domain":["l1","l2","l3","2001","2002","2003","2004","2005"],"paddingInner":0,"paddingOuter":0},"axis":null},"text":{"field":"t","type":"nominal"}}}
       ]}
     ]}
    ]}
   ]},
   {"spacing":0,"align":"none","resolve":{"scale":{"fill":"independent","stroke":"independent","color":"independent","shape":"independent"}},"vconcat":[
    {"width":1,"height":2,"data":{"values":[]},"mark":{"type":"point"},"encoding":{}},
    {"spacing":0,"align":"none","hconcat":[
     {"width":25,"height":1,"data":{"values":[]},"mark":{"type":"point"},"encoding":{}},
     {"width":263,"height":472,"view":{"stroke":"#bfbfbf","strokeWidth":1},"data":{"name":"tb"},
      "layer":[
       {"transform":[{"filter":"datum.kind=='body'"}],"mark":{"type":"text","align":"left","dx":6,"fontSize":10.2},
        "encoding":{"x":{"datum":0,"type":"quantitative","scale":{"domain":[0,1]},"axis":null},"y":{"field":"i","type":"quantitative","scale":{"domain":[-0.603,35.0],"reverse":true,"nice":false,"zero":false},"axis":null},"text":{"field":"t","type":"nominal"}}},
       {"transform":[{"filter":"datum.kind=='head'"}],"mark":{"type":"text","align":"left","dx":6,"fontSize":10.2,"fontWeight":"bold"},
        "encoding":{"x":{"datum":0,"type":"quantitative","scale":{"domain":[0,1]},"axis":null},"y":{"field":"i","type":"quantitative","scale":{"domain":[-0.603,35.0],"reverse":true,"nice":false,"zero":false},"axis":null},"text":{"field":"t","type":"nominal"}}}
      ]}
    ]},
    {"spacing":0,"align":"none","vconcat":[
     {"width":286,"height":20,
      "layer":[
       {"data":{"values":[{"t":"SKULDER*"}]},"mark":{"type":"text","align":"left","dx":1,"fontSize":12.5},"encoding":{"x":{"datum":0,"type":"quantitative","scale":{"domain":[0,1]},"axis":null},"text":{"field":"t","type":"nominal"}}},
       {"data":{"values":[{"t":"Avrundat till hela tiotals mkr"}]},"mark":{"type":"text","align":"right","dx":-3,"fontSize":9.5,"fontWeight":"bold"},"encoding":{"x":{"datum":1,"type":"quantitative","scale":{"domain":[0,1]},"axis":null},"text":{"field":"t","type":"nominal"}}}
      ]},
     {"width":286,"height":60,"view":{"stroke":"black","strokeWidth":2},"data":{"name":"skulder"},"transform":[{"filter":"datum.grp=='f1'"}],
      "layer":[
       {"transform":[{"filter":"datum.kind=='label'"}],"mark":{"type":"text","align":"left","dx":2,"fontSize":11},
        "encoding":{"x":{"field":"col","type":"nominal","scale":{"type":"band","domain":["l1","l2","2002","2003","2004","2005"],"paddingInner":0,"paddingOuter":0},"bandPosition":0,"axis":null},"y":{"field":"r","type":"ordinal","scale":{"type":"band","paddingInner":0,"paddingOuter":0},"axis":null},"text":{"field":"t","type":"nominal"}}},
       {"transform":[{"filter":"datum.kind=='year'"}],"mark":{"type":"text","align":"right","dx":-2,"fontSize":11.5,"fontStyle":"italic"},
        "encoding":{"x":{"field":"col","type":"nominal","scale":{"type":"band","domain":["l1","l2","2002","2003","2004","2005"],"paddingInner":0,"paddingOuter":0},"bandPosition":1,"axis":null},"y":{"field":"r","type":"ordinal","scale":{"type":"band","paddingInner":0,"paddingOuter":0},"axis":null},"text":{"field":"t","type":"nominal"}}},
       {"transform":[{"filter":"datum.kind=='num'"}],"mark":{"type":"text","align":"right","dx":-2,"fontSize":11.5},
        "encoding":{"x":{"field":"col","type":"nominal","scale":{"type":"band","domain":["l1","l2","2002","2003","2004","2005"],"paddingInner":0,"paddingOuter":0},"bandPosition":1,"axis":null},"y":{"field":"r","type":"ordinal","scale":{"type":"band","paddingInner":0,"paddingOuter":0},"axis":null},"text":{"field":"v","type":"quantitative"}}}
      ]},
     {"width":286,"height":13.5,"view":{"stroke":"black","strokeWidth":1.5},"data":{"name":"skulder"},"transform":[{"filter":"datum.grp=='f2'"}],
      "layer":[
       {"transform":[{"filter":"datum.kind=='label'"}],"mark":{"type":"text","align":"left","dx":2,"fontSize":11},
        "encoding":{"x":{"field":"col","type":"nominal","scale":{"type":"band","domain":["l1","l2","2002","2003","2004","2005"],"paddingInner":0,"paddingOuter":0},"bandPosition":0,"axis":null},"text":{"field":"t","type":"nominal"}}},
       {"transform":[{"filter":"datum.kind=='num'"}],"mark":{"type":"text","align":"right","dx":-2,"fontSize":11.5},
        "encoding":{"x":{"field":"col","type":"nominal","scale":{"type":"band","domain":["l1","l2","2002","2003","2004","2005"],"paddingInner":0,"paddingOuter":0},"bandPosition":1,"axis":null},"text":{"field":"v","type":"quantitative"}}}
      ]},
     {"width":286,"height":13.5,"view":{"stroke":"black","strokeWidth":1.5},"data":{"name":"skulder"},"transform":[{"filter":"datum.grp=='f3'"}],
      "layer":[
       {"transform":[{"filter":"datum.kind=='label'"}],"mark":{"type":"text","align":"left","dx":2,"fontSize":11},
        "encoding":{"x":{"field":"col","type":"nominal","scale":{"type":"band","domain":["l1","l2","2002","2003","2004","2005"],"paddingInner":0,"paddingOuter":0},"bandPosition":0,"axis":null},"text":{"field":"t","type":"nominal"}}},
       {"transform":[{"filter":"datum.kind=='num'"}],"mark":{"type":"text","align":"right","dx":-2,"fontSize":11.5},
        "encoding":{"x":{"field":"col","type":"nominal","scale":{"type":"band","domain":["l1","l2","2002","2003","2004","2005"],"paddingInner":0,"paddingOuter":0},"bandPosition":1,"axis":null},"text":{"field":"v","type":"quantitative"}}}
      ]},
     {"width":286,"height":17,"data":{"values":[{"t":"* Info från SCB (Obs! Kan avvika från kommunens uppgifter)"}]},"mark":{"type":"text","align":"left","dx":1,"fontSize":9.5,"fontWeight":"bold","fontStyle":"italic"},"encoding":{"x":{"datum":0,"type":"quantitative","scale":{"domain":[0,1]},"axis":null},"text":{"field":"t","type":"nominal"}}}
    ]}
   ]}
  ]}
 ]},
 {"spacing":0,"align":"none","vconcat":[
  {"width":30,"height":195,"data":{"values":[]},"mark":{"type":"point"},"encoding":{}},
  {"width":30,"height":254,"data":{"values":[{"t":"Nyckeltal H2 - Skuldnivån jämfört med totala intäkter"}]},"mark":{"type":"text","angle":90,"fontSize":10.5,"fontWeight":"bold"},"encoding":{"text":{"field":"t","type":"nominal"}}},
  {"width":30,"height":91,"data":{"values":[]},"mark":{"type":"point"},"encoding":{}},
  {"width":30,"height":90,"data":{"values":[{"t":"Version  2007-08-28"}]},"mark":{"type":"text","angle":90,"fontSize":10.5,"fontWeight":"bold"},"encoding":{"text":{"field":"t","type":"nominal"}}}
 ]}
]
}
